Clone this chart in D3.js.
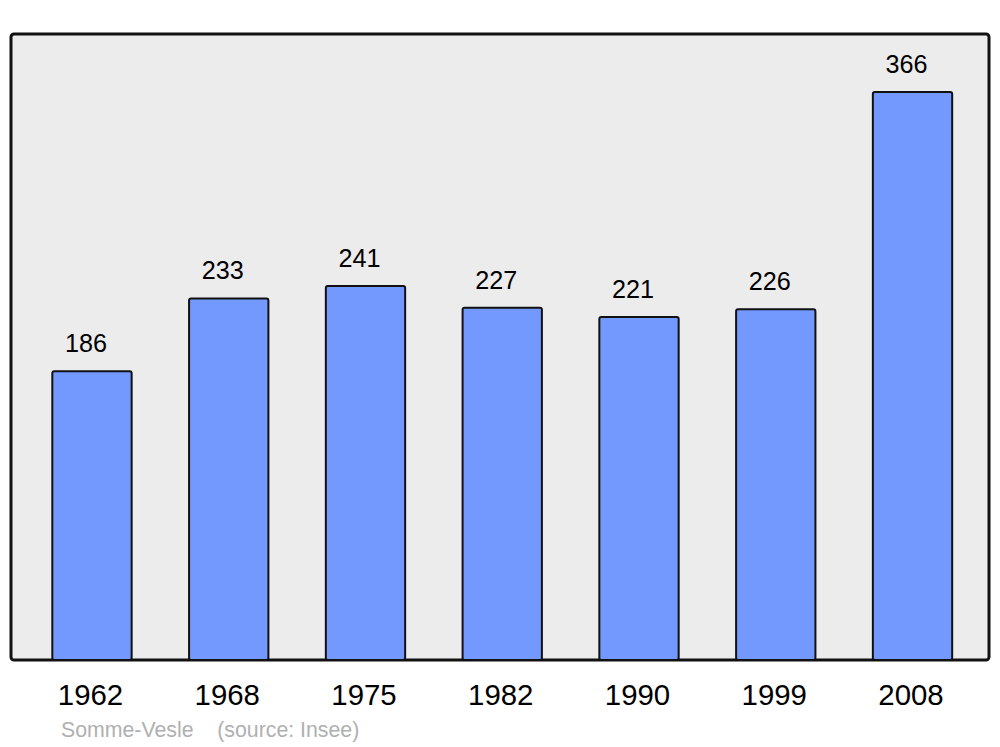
<!DOCTYPE html>
<html>
<head>
<meta charset="utf-8">
<script src="https://cdn.jsdelivr.net/npm/d3@7"></script>
<style>
  html, body { margin: 0; padding: 0; background: #fff; }
  svg { display: block; font-family: "Liberation Sans", Arial, sans-serif; }
</style>
</head>
<body>
<svg id="chart" width="1000" height="747"></svg>
<script>
const years = ["1962", "1968", "1975", "1982", "1990", "1999", "2008"];
const population = [186, 233, 241, 227, 221, 226, 366];
const sourceText = "Somme-Vesle    (source: Insee)";

const svg = d3.select("#chart");
const panel = { left: 11, top: 34, right: 989, bottom: 660 };

svg.append("rect")
  .attr("x", panel.left).attr("y", panel.top)
  .attr("width", panel.right - panel.left).attr("height", panel.bottom - panel.top)
  .attr("rx", 3).attr("ry", 3)
  .attr("fill", "#ececec").attr("stroke", "#111").attr("stroke-width", 3);

const x = d3.scaleBand().domain(years).range([23.6, 980.9])
  .paddingInner(0.42).paddingOuter(0.21);
const y = d3.scaleLinear().domain([0, 403.4]).range([panel.bottom, panel.top]);

const data = years.map((yr, i) => ({ year: yr, value: population[i] }));

svg.selectAll("rect.bar").data(data).enter().append("rect")
  .attr("class", "bar")
  .attr("x", d => x(d.year))
  .attr("y", d => y(d.value))
  .attr("width", x.bandwidth())
  .attr("height", d => y(0) - y(d.value))
  .attr("rx", 2).attr("ry", 2)
  .attr("fill", "#7399ff").attr("stroke", "#111").attr("stroke-width", 2);

svg.selectAll("text.val").data(data).enter().append("text")
  .attr("class", "val")
  .attr("x", d => x(d.year) + x.bandwidth() / 2 - 6)
  .attr("y", d => y(d.value) - 19)
  .attr("text-anchor", "middle")
  .attr("font-size", 25.2).attr("fill", "#000")
  .text(d => d.value);

svg.selectAll("text.year").data(data).enter().append("text")
  .attr("class", "year")
  .attr("x", d => x(d.year) + x.bandwidth() / 2 - 1.5)
  .attr("y", 705)
  .attr("text-anchor", "middle")
  .attr("font-size", 29.4).attr("fill", "#000")
  .text(d => d.year);

svg.append("text")
  .attr("x", 61).attr("y", 737)
  .attr("font-size", 21.3).attr("fill", "#b0b0b0")
  .attr("xml:space", "preserve")
  .style("white-space", "pre")
  .text(sourceText);
</script>
</body>
</html>
